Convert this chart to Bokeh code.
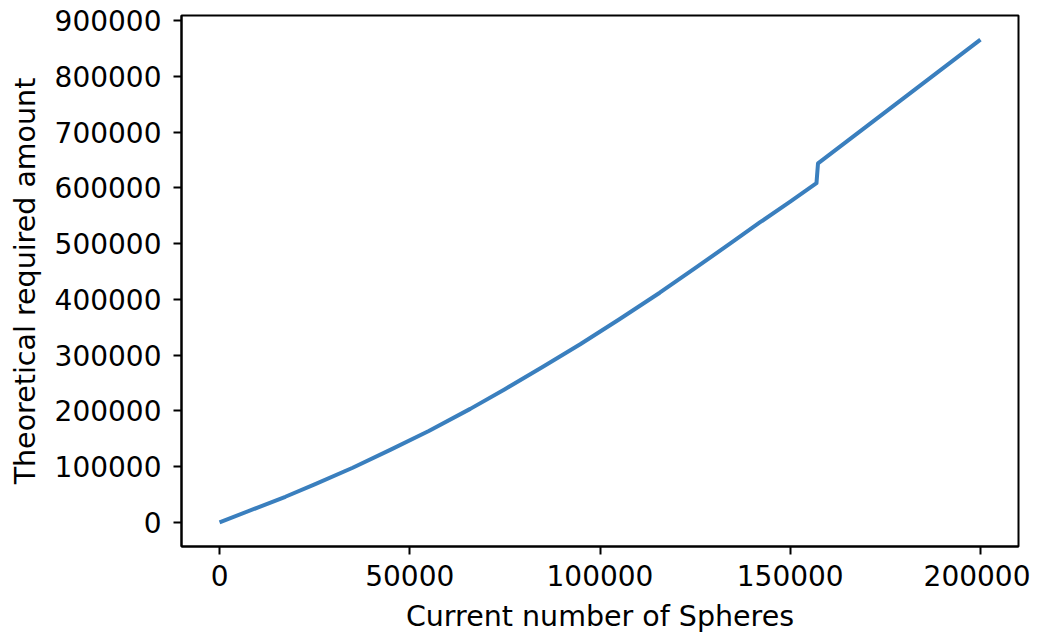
from bokeh.plotting import figure
from bokeh.models import Range1d, SingleIntervalTicker, NumeralTickFormatter
from bokeh.embed import file_html
from bokeh.resources import INLINE

spheres = [0, 10000, 17300, 25000, 35000, 45000, 55000, 65900, 75000, 85000, 94800,
           105000, 115700, 125000, 135000, 142000, 150000, 156900, 157300, 200000]
required = [0, 26500, 45900, 68000, 98000, 130500, 164000, 203600, 239000, 279000, 319600,
            364000, 412000, 456000, 504000, 538000, 575500, 608400, 644000, 866000]

p = figure(width=1030, height=635, output_backend="svg", toolbar_location=None,
           x_range=Range1d(-10000, 210000), y_range=Range1d(-43300, 909300),
           min_border_left=181, min_border_right=12, min_border_top=15, min_border_bottom=87)
p.line(spheres, required, line_color="#3a7fbe", line_width=4, line_join="round")

p.grid.visible = False
p.outline_line_color = "black"
p.outline_line_width = 2
p.background_fill_color = "white"

p.xaxis.ticker = SingleIntervalTicker(interval=50000, num_minor_ticks=0)
p.yaxis.ticker = SingleIntervalTicker(interval=100000, num_minor_ticks=0)
for ax in (p.xaxis[0], p.yaxis[0]):
    ax.formatter = NumeralTickFormatter(format="0")
    ax.major_label_text_font = "DejaVu Sans"
    ax.major_label_text_font_size = "28px"
    ax.major_label_text_color = "black"
    ax.axis_label_text_font = "DejaVu Sans"
    ax.axis_label_text_font_size = "28.5px"
    ax.axis_label_text_font_style = "normal"
    ax.axis_label_text_color = "black"
    ax.major_tick_out = 8
    ax.major_tick_in = 0
    ax.minor_tick_out = 0
    ax.minor_tick_in = 0
    ax.major_tick_line_width = 2
    ax.axis_line_width = 2

p.xaxis.axis_label = "Current number of Spheres"
p.yaxis.axis_label = "Theoretical required amount"
p.xaxis.major_label_standoff = 10
p.xaxis.axis_label_standoff = 11
p.yaxis.major_label_standoff = 12
p.yaxis.axis_label_standoff = 10

open("out.html", "w").write(file_html(p, INLINE))
